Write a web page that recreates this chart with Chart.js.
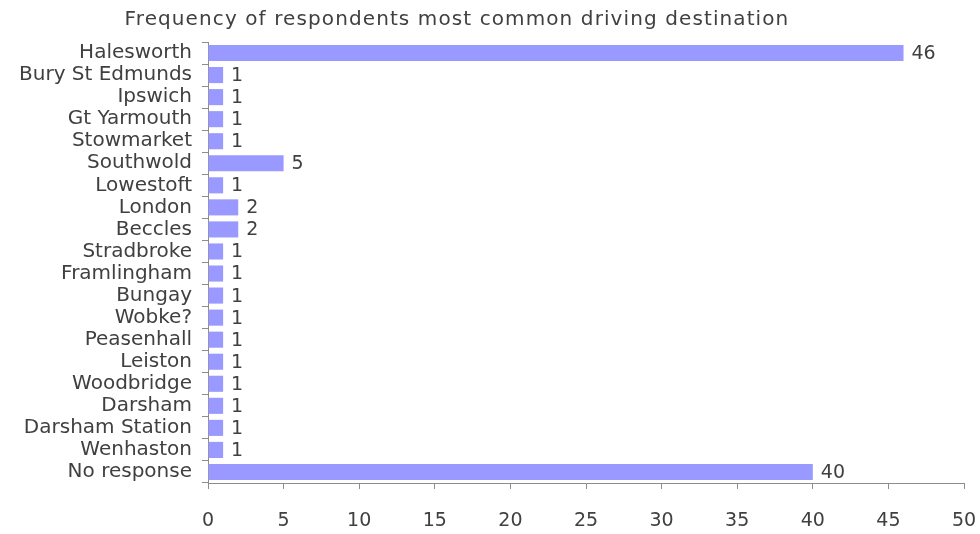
<!DOCTYPE html>
<html>
<head>
<meta charset="utf-8">
<script src="https://cdn.jsdelivr.net/npm/chart.js@4"></script>
<style>
  html, body { margin: 0; padding: 0; background: #fff; }
  #wrap { width: 980px; height: 534px; position: relative; }
</style>
</head>
<body>
<div id="wrap"><canvas id="chart"></canvas></div>
<script>
const destinations = ['Halesworth', 'Bury St Edmunds', 'Ipswich', 'Gt Yarmouth', 'Stowmarket',
  'Southwold', 'Lowestoft', 'London', 'Beccles', 'Stradbroke', 'Framlingham', 'Bungay',
  'Wobke?', 'Peasenhall', 'Leiston', 'Woodbridge', 'Darsham', 'Darsham Station',
  'Wenhaston', 'No response']
const counts = [46, 1, 1, 1, 1, 5, 1, 2, 2, 1, 1, 1, 1, 1, 1, 1, 1, 1, 1, 40]
const xTicks = [0, 5, 10, 15, 20, 25, 30, 35, 40, 45, 50]
const title = 'Frequency of respondents most common driving destination'

const FONT = '"DejaVu Sans", sans-serif'
const TEXT = '#404040'
const AXIS = '#8c8c8c'

//value at the end of each bar, plus the title
const labelPlugin = {
    id: 'barLabels',
    afterDatasetsDraw(chart) {
        const ctx = chart.ctx
        const meta = chart.getDatasetMeta(0)
        ctx.save()
        ctx.font = '19px ' + FONT
        ctx.fillStyle = TEXT
        ctx.textBaseline = 'middle'
        ctx.textAlign = 'left'
        meta.data.forEach((bar, i) => {
            ctx.fillText(String(counts[i]), bar.x + 8, bar.y + 1)
        })
        ctx.font = '20px ' + FONT
        ctx.textAlign = 'center'
        ctx.letterSpacing = '1.1px'
        ctx.fillText(title, 457, 20)
        ctx.restore()
    }
}

const config = {
    type: 'bar',
    data: {
        labels: destinations,
        datasets: [{
            data: counts,
            backgroundColor: '#9999ff',
            borderWidth: 0,
            barPercentage: 0.73,
            categoryPercentage: 1
        }]
    },
    options: {
        indexAxis: 'y',
        responsive: true,
        maintainAspectRatio: false,
        animation: false,
        layout: { padding: { top: 42, right: 16, bottom: 0, left: 0 } },
        plugins: {
            legend: { display: false },
            tooltip: { enabled: false }
        },
        scales: {
            x: {
                min: 0,
                max: 50,
                afterBuildTicks: scale => { scale.ticks = xTicks.map(v => ({ value: v })) },
                afterFit: scale => {
                    scale.height = 51
                    scale.paddingLeft = 0
                    scale.paddingRight = 0
                },
                grid: { drawOnChartArea: false, drawTicks: true, tickLength: 6, color: AXIS },
                border: { color: AXIS },
                ticks: { color: TEXT, font: { family: FONT, size: 19 }, padding: 21, maxRotation: 0 }
            },
            y: {
                afterFit: scale => { scale.width = 208 },
                grid: { drawOnChartArea: false, drawTicks: true, tickLength: 6, color: AXIS, offset: true },
                border: { color: AXIS },
                ticks: { color: TEXT, font: { family: FONT, size: 20 }, padding: 10, autoSkip: false }
            }
        }
    },
    plugins: [labelPlugin]
}

const myChart = new Chart(document.getElementById('chart'), config)
</script>
</body>
</html>
